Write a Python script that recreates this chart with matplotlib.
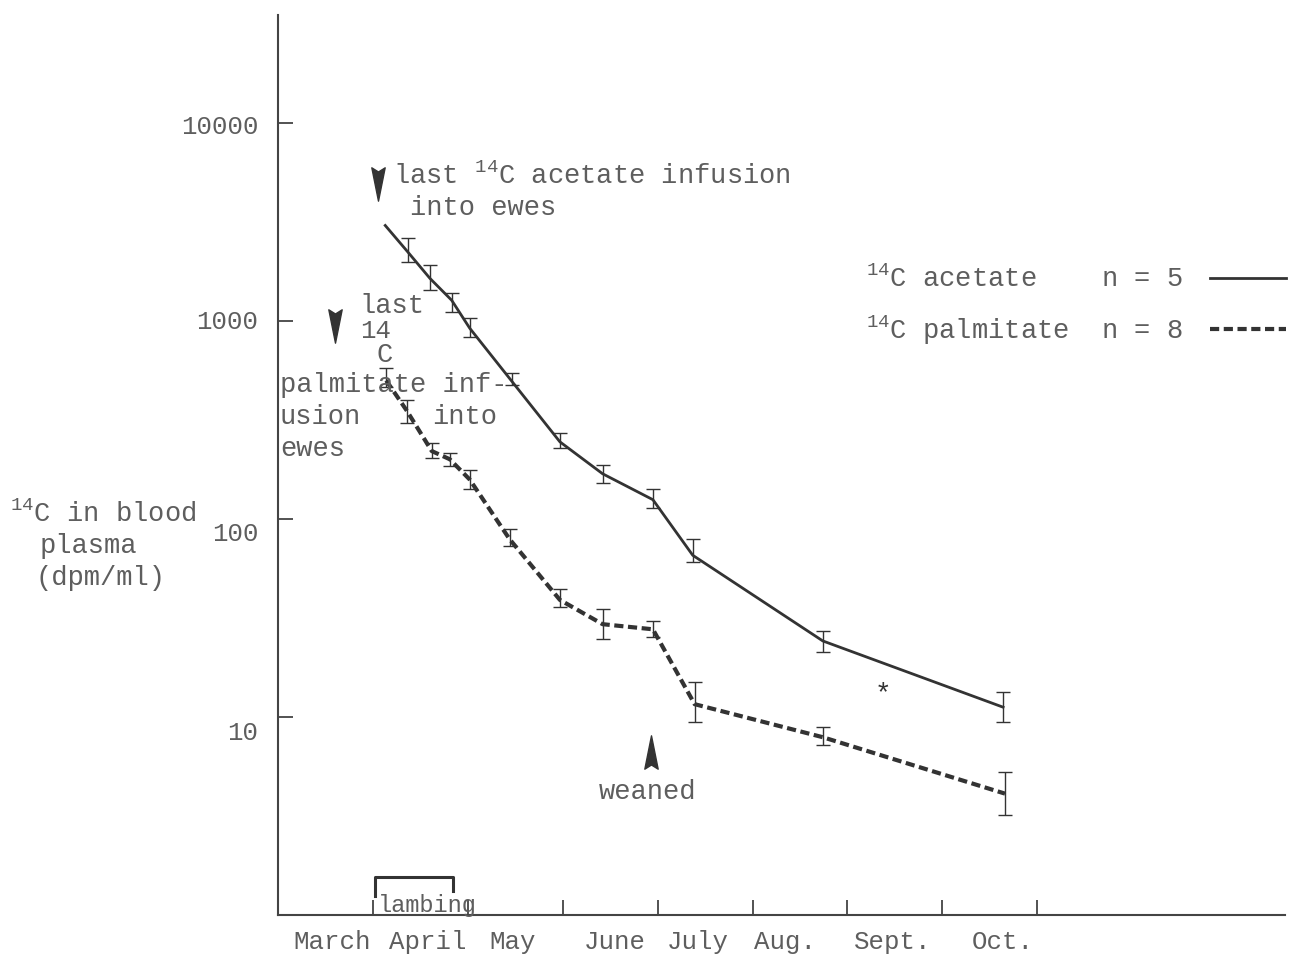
#14C in ewe blood plasma after the last infusions, log scale
import matplotlib.pyplot as plt
from matplotlib.path import Path
from matplotlib.lines import Line2D
from matplotlib.transforms import ScaledTranslation

plt.rcParams['font.family'] = ['Liberation Mono', 'DejaVu Sans Mono']
plt.rcParams['mathtext.fontset'] = 'custom'
plt.rcParams['mathtext.rm'] = 'Liberation Mono'
plt.rcParams['mathtext.it'] = 'Liberation Mono'
plt.rcParams['mathtext.bf'] = 'Liberation Mono'

ink = '#333333'
txt = '#5e5e5e'

# x in months, 0 = start of March
month_edges = [1, 2, 3, 4, 5, 6, 7, 8]
month_names = ['March', 'April', 'May', 'June', 'July', 'Aug.', 'Sept.', 'Oct.']
month_label_pos = [0.57, 1.58, 2.47, 3.55, 4.42, 5.34, 6.48, 7.64]

# 14C acetate (dpm/ml), n = 5 (first sample has no error bar)
acet_x = [1.13, 1.37, 1.60, 1.83, 2.02, 2.47, 2.97, 3.42, 3.95, 4.37, 5.74, 7.64]
acet_y = [3030, 2220, 1640, 1270, 918, 491, 245, 169, 125, 65.5, 24.2, 11.2]
acet_lo = [3030, 1974, 1427, 1105, 828, 475, 229, 152, 114, 60.4, 21.3, 9.4]
acet_hi = [3030, 2608, 1905, 1376, 1032, 546, 272, 188, 141, 78.7, 27.1, 13.4]

# 14C palmitate (dpm/ml), n = 8
palm_x = [1.14, 1.36, 1.62, 1.81, 2.02, 2.44, 2.97, 3.42, 3.95, 4.39, 5.74, 7.66]
palm_y = [500, 350, 220, 200, 158, 79, 39, 29.4, 27.7, 11.6, 7.9, 4.1]
palm_lo = [464, 306, 204, 184, 141, 72.6, 35.8, 24.7, 25.3, 9.4, 7.2, 3.2]
palm_hi = [578, 399, 242, 216, 177, 88.5, 44.2, 35.0, 30.5, 15.0, 8.9, 5.3]

lambing_start, lambing_end = 1.02, 1.84

fig = plt.figure(figsize=(13.04, 9.57), dpi=100)
ax = fig.add_axes([0.2132, 0.0439, 0.7722, 0.9404])
ax.set_yscale('log')
ax.set_xlim(0, 10.61)
ax.set_ylim(1, 35000)

acet_style = dict(color=ink, lw=2.0)
palm_style = dict(color=ink, lw=3.0, dashes=(2.2, 1.1))

def draw_series(x, y, lo, hi, style):
    ax.plot(x, y, **style)
    keep = [i for i in range(len(x)) if hi[i] > lo[i]]
    ex = [x[i] for i in keep]
    ey = [y[i] for i in keep]
    yerr = [[y[i] - lo[i] for i in keep], [hi[i] - y[i] for i in keep]]
    ax.errorbar(ex, ey, yerr=yerr, fmt='none', ecolor=ink, elinewidth=1.0,
                capsize=5, capthick=1.0)

draw_series(acet_x, acet_y, acet_lo, acet_hi, acet_style)
draw_series(palm_x, palm_y, palm_lo, palm_hi, palm_style)

# axes look
for s in ['top', 'right']:
    ax.spines[s].set_visible(False)
for s in ['left', 'bottom']:
    ax.spines[s].set_linewidth(1.5)
    ax.spines[s].set_color('#444444')

ax.set_yticks([10, 100, 1000, 10000])
ax.set_yticklabels(['10', '100', '1000', '10000'])
ax.yaxis.set_minor_locator(plt.NullLocator())
ax.tick_params(axis='y', which='major', direction='in', length=11, width=1.3,
               color='#444444', labelsize=18.5, labelcolor=txt, pad=14)
# the typed labels sit a little below their ticks
label_drop = [10, 9, -1, 1]
for lab, d in zip(ax.get_yticklabels(), label_drop):
    lab.set_transform(lab.get_transform() + ScaledTranslation(0, -d / 72, fig.dpi_scale_trans))

ax.set_xticks(month_edges)
ax.set_xticklabels([])
ax.set_xticks(month_label_pos, minor=True)
ax.set_xticklabels(month_names, minor=True)
ax.tick_params(axis='x', which='major', direction='in', length=11, width=1.3, color='#444444')
ax.tick_params(axis='x', which='minor', length=0, labelsize=18.5, labelcolor=txt, pad=11)

# arrowheads
down = Path([(-0.4, 1), (0, 0.75), (0.4, 1), (0, -1), (-0.4, 1)],
            [Path.MOVETO, Path.LINETO, Path.LINETO, Path.LINETO, Path.CLOSEPOLY])
up = Path([(-0.4, -1), (0, -0.75), (0.4, -1), (0, 1), (-0.4, -1)],
          [Path.MOVETO, Path.LINETO, Path.LINETO, Path.LINETO, Path.CLOSEPOLY])
ax.plot([1.05], [4930], marker=down, ms=24, color=ink, ls='none')
ax.plot([0.60], [940], marker=down, ms=24, color=ink, ls='none')
ax.plot([3.93], [6.67], marker=up, ms=24, color=ink, ls='none')

# annotations
fs = 19.5
ax.text(1.21, 4930, r'last $^{14}$C acetate infusion', fontsize=fs, color=txt, va='baseline')
ax.text(1.39, 3440, 'into ewes', fontsize=fs, color=txt, va='baseline')
ax.text(0.86, 1094, 'last', fontsize=fs, color=txt, va='baseline')
ax.text(0.87, 819, '14', fontsize=fs - 1, color=txt, va='baseline')
ax.text(1.04, 619, 'C', fontsize=fs, color=txt, va='baseline')
ax.text(0.02, 438, 'palmitate inf-', fontsize=fs, color=txt, va='baseline')
ax.text(0.02, 302, 'usion', fontsize=fs, color=txt, va='baseline')
ax.text(1.62, 302, 'into', fontsize=fs, color=txt, va='baseline')
ax.text(0.02, 208, 'ewes', fontsize=fs, color=txt, va='baseline')
ax.text(3.89, 3.87, 'weaned', fontsize=fs, color=txt, va='baseline', ha='center')
ax.text(6.375, 13.0, '*', fontsize=20, color=ink, ha='center', va='center')

# lambing bracket
ax.plot([lambing_start, lambing_start, lambing_end, lambing_end], [1.25, 1.55, 1.55, 1.32],
        color=ink, lw=2.2)
ax.text(lambing_start + 0.03, 1.035, 'lambing', fontsize=17, color=txt, va='baseline')

# y label
fig.text(10 / 1304, 1 - 522 / 957, r'$^{14}$C in blood', fontsize=fs, color=txt, va='baseline')
fig.text(40 / 1304, 1 - 553 / 957, 'plasma', fontsize=fs, color=txt, va='baseline')
fig.text(35 / 1304, 1 - 585 / 957, '(dpm/ml)', fontsize=fs, color=txt, va='baseline')

handles = [Line2D([], [], **acet_style), Line2D([], [], **palm_style)]
labels = [r'$^{14}$C acetate    n = 5', r'$^{14}$C palmitate  n = 8']
ax.legend(handles, labels, loc='upper left', bbox_to_anchor=(0.565, 0.742), frameon=False,
          markerfirst=False, fontsize=fs, labelcolor=txt, handlelength=2.8,
          handletextpad=1.0, labelspacing=0.75, borderpad=0.2)

fig.savefig('out.png', dpi=100)
